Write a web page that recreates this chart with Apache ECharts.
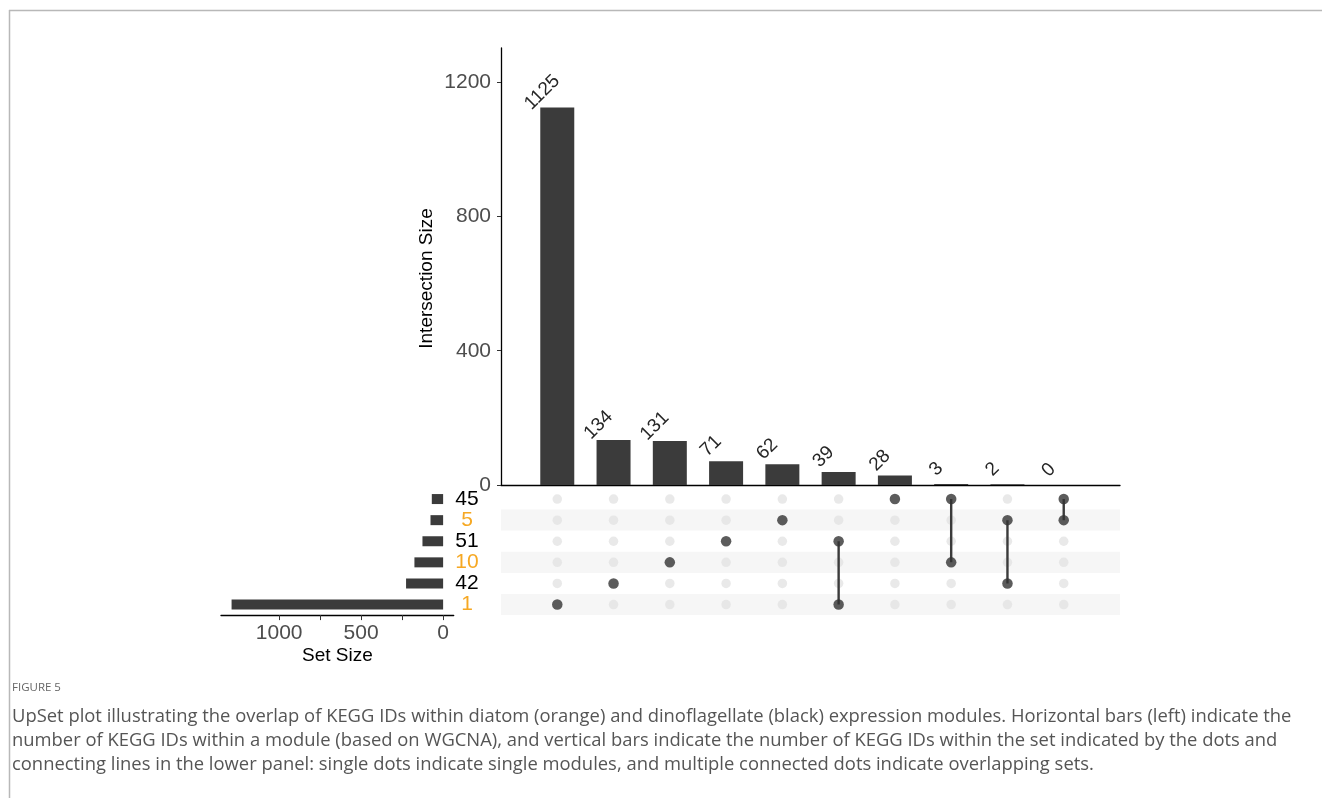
<!DOCTYPE html>
<html><head><meta charset="utf-8">
<script src="https://cdn.jsdelivr.net/npm/echarts@6/dist/echarts.min.js"></script>
<style>html,body{margin:0;padding:0;background:#fff}#c{width:1322px;height:798px}</style>
</head><body><div id="c"></div>
<script>
// ---- data ----
const intersectionSizes = [1125, 134, 131, 71, 62, 39, 28, 3, 2, 0];
const intersectionMembers = [['1'], ['42'], ['10'], ['51'], ['5'], ['51', '1'], ['45'], ['45', '10'], ['5', '42'], ['45', '5']];
const setNames = ['45', '5', '51', '10', '42', '1'];
const setSizes = [69, 77, 126, 175, 226, 1290];
const diatomSets = ['5', '10', '1'];
const intersectionTicks = [0, 400, 800, 1200];
const setSizeTicks = [0, 250, 500, 750, 1000];
const setSizeLabels = [0, 500, 1000];
const figureLabel = 'FIGURE 5';
const captionLines = [
  'UpSet plot illustrating the overlap of KEGG IDs within diatom (orange) and dinoflagellate (black) expression modules. Horizontal bars (left) indicate the',
  'number of KEGG IDs within a module (based on WGCNA), and vertical bars indicate the number of KEGG IDs within the set indicated by the dots and',
  'connecting lines in the lower panel: single dots indicate single modules, and multiple connected dots indicate overlapping sets.'
];

// ---- styles ----
const FONT = '"Liberation Sans", Arial, sans-serif';
const CAP_FONT = '"Open Sans", "Noto Sans", sans-serif';
const DARK = '#3b3b3b';
const ORANGE = '#f6a823';
const AXIS_TEXT = '#4d4d4d';
const plain = v => String(v);

const positions = intersectionSizes.map((_, i) => i + 1);
const barData = intersectionSizes.map((v, i) => [positions[i], v]);

const grayDots = [], darkDots = [], lineSeries = [];
intersectionMembers.forEach((mem, i) => {
  setNames.forEach((s, j) => {
    if (mem.includes(s)) darkDots.push([positions[i], j]);
    else grayDots.push([positions[i], j]);
  });
  if (mem.length > 1) {
    const idx = mem.map(s => setNames.indexOf(s));
    lineSeries.push({
      type: 'line', xAxisIndex: 1, yAxisIndex: 1, z: 3,
      symbol: 'none', silent: true,
      lineStyle: { color: DARK, width: 2.4 },
      data: [[positions[i], Math.min(...idx)], [positions[i], Math.max(...idx)]]
    });
  }
});

const chart = echarts.init(document.getElementById('c'), null, { renderer: 'canvas' });
chart.setOption({
  animation: false,
  backgroundColor: '#ffffff',
  textStyle: { fontFamily: FONT },
  title: [
    { text: figureLabel, left: 12, top: 682, padding: 0,
      textStyle: { fontFamily: CAP_FONT, fontSize: 11.5, fontWeight: 'normal', color: '#666' } },
    { text: captionLines.join('\n'), left: 12, top: 705, padding: 0,
      textStyle: { fontFamily: CAP_FONT, fontSize: 18.4, fontWeight: 'normal', color: '#555', lineHeight: 24 } }
  ],
  graphic: [
    { type: 'line', shape: { x1: 9, y1: 10.5, x2: 1322, y2: 10.5 }, style: { stroke: '#b8b8b8', lineWidth: 1.5 } },
    { type: 'line', shape: { x1: 9.5, y1: 10, x2: 9.5, y2: 798 }, style: { stroke: '#b8b8b8', lineWidth: 1.5 } }
  ],
  grid: [
    { left: 501, top: 48, width: 619, height: 437 },
    { left: 501, top: 488.5, width: 619, height: 126.6 },
    { left: 221, top: 488.5, width: 232.7, height: 126.6 }
  ],
  xAxis: [
    { gridIndex: 0, type: 'value', min: 0, max: 11,
      axisLine: { show: true, onZero: false, lineStyle: { color: '#000', width: 1.3 } },
      axisTick: { show: false }, axisLabel: { show: false }, splitLine: { show: false } },
    { gridIndex: 1, type: 'value', min: 0, max: 11, show: false },
    { gridIndex: 2, type: 'value', min: -64.5, max: 1354.5, inverse: true,
      axisLine: { show: true, onZero: false, lineStyle: { color: '#000', width: 1.3 } },
      axisTick: { show: true, customValues: setSizeTicks, length: 5, lineStyle: { color: '#333' } },
      axisLabel: { customValues: setSizeLabels, formatter: plain, fontSize: 21, color: AXIS_TEXT, margin: 8 },
      splitLine: { show: false },
      name: 'Set Size', nameLocation: 'middle', nameGap: 31,
      nameTextStyle: { fontSize: 19, color: '#000' } }
  ],
  yAxis: [
    { gridIndex: 0, type: 'value', min: 0, max: 1302,
      axisLine: { show: true, onZero: false, lineStyle: { color: '#000', width: 1.3 } },
      axisTick: { show: true, customValues: intersectionTicks, length: 4, lineStyle: { color: '#333' } },
      axisLabel: { customValues: intersectionTicks, formatter: plain, fontSize: 21, color: AXIS_TEXT, margin: 10 },
      splitLine: { show: false },
      name: 'Intersection Size', nameLocation: 'middle', nameGap: 65,
      nameTextStyle: { fontSize: 19, color: '#000', padding: [0, 24, 0, 0] } },
    { gridIndex: 1, type: 'category', data: setNames, inverse: true,
      axisLine: { show: false, onZero: false }, axisTick: { show: false }, axisLabel: { show: false },
      splitLine: { show: false },
      splitArea: { show: true, interval: 0, areaStyle: { color: ['#ffffff', '#f6f6f6'] } } },
    { gridIndex: 2, type: 'category', data: setNames, inverse: true, position: 'right',
      axisLine: { show: false, onZero: false }, axisTick: { show: false },
      axisLabel: { interval: 0, fontSize: 21, align: 'center', margin: 13.3,
        color: v => diatomSets.includes(v) ? ORANGE : '#000' },
      splitLine: { show: false } }
  ],
  series: [
    { type: 'bar', xAxisIndex: 0, yAxisIndex: 0, data: barData, barWidth: 34,
      itemStyle: { color: DARK }, silent: true },
    { type: 'custom', xAxisIndex: 0, yAxisIndex: 0, data: barData, silent: true,
      renderItem: (params, api) => {
        const p = api.coord([api.value(0), api.value(1)]);
        return { type: 'text', x: p[0] - 15, y: p[1] - 15, rotation: Math.PI / 4,
          style: { text: String(api.value(1)), fill: '#262626', fontSize: 19, fontFamily: FONT,
                   align: 'center', verticalAlign: 'middle' } };
      } },
    { type: 'scatter', xAxisIndex: 1, yAxisIndex: 1, data: grayDots, symbolSize: 9.5, z: 2,
      itemStyle: { color: '#e3e3e3' }, silent: true },
    ...lineSeries,
    { type: 'scatter', xAxisIndex: 1, yAxisIndex: 1, data: darkDots, symbolSize: 10.5, z: 4,
      itemStyle: { color: '#333333' }, silent: true },
    { type: 'bar', xAxisIndex: 2, yAxisIndex: 2, data: setSizes, barWidth: 10,
      itemStyle: { color: DARK }, silent: true }
  ]
});
</script></body></html>
